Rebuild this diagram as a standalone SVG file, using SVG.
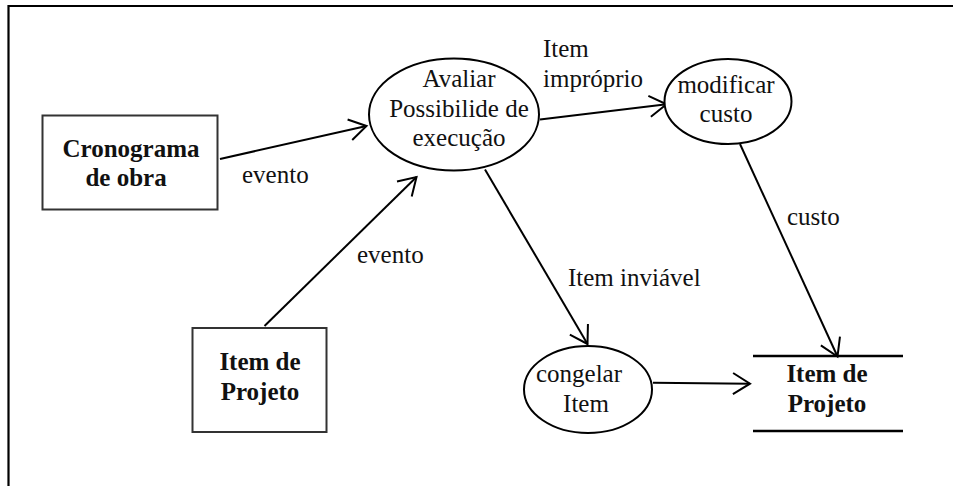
<svg xmlns="http://www.w3.org/2000/svg" width="953" height="486" viewBox="0 0 953 486">
  <style>
    .bg { fill: #ffffff; }
    .frame { fill: none; stroke: #000; stroke-width: 2.2; }
    .entity { fill: #fff; stroke: #333; stroke-width: 2; }
    .proc { fill: #fff; stroke: #000; stroke-width: 2; }
    .store { stroke: #000; stroke-width: 2.5; }
    .flow { fill: none; stroke: #000; stroke-width: 2; }
    text { font-family: "Liberation Serif", "Times New Roman", serif; font-size: 25px; fill: #111; }
    .b { font-weight: bold; }
    .c { text-anchor: middle; }
  </style>
  <defs>
    <marker id="arrow" markerUnits="userSpaceOnUse" markerWidth="40" markerHeight="40" viewBox="-20 -20 40 40" refX="0" refY="0" orient="auto">
      <path d="M-17,-10.5 L0,0 L-17,10.5" fill="none" stroke="#000" stroke-width="2"/>
    </marker>
  </defs>

  <rect class="bg" x="0" y="0" width="953" height="486"/>
  <!-- page frame: top and left edges only -->
  <path class="frame" d="M8.5,486 L8.5,6 L953,6"/>

  <g id="connectors">
    <line class="flow" x1="220" y1="159" x2="366.5" y2="126" marker-end="url(#arrow)"/>
    <line class="flow" x1="264.5" y1="326" x2="416.5" y2="177" marker-end="url(#arrow)"/>
    <line class="flow" x1="540" y1="119.5" x2="666.5" y2="104.3" marker-end="url(#arrow)"/>
    <line class="flow" x1="485" y1="169.5" x2="587.5" y2="344" marker-end="url(#arrow)"/>
    <line class="flow" x1="740" y1="144" x2="837.5" y2="356.5" marker-end="url(#arrow)"/>
    <line class="flow" x1="653" y1="382.7" x2="750" y2="383.7" marker-end="url(#arrow)"/>
    <text x="242" y="183">evento</text>
    <text x="357" y="263">evento</text>
    <text x="543" y="57">Item</text>
    <text x="543" y="87">impróprio</text>
    <text x="568" y="286">Item inviável</text>
    <text x="787" y="225">custo</text>
  </g>

  <g id="cronograma">
    <rect class="entity" x="42.5" y="115.5" width="175" height="94"/>
    <text class="b c" x="131" y="157">Cronograma</text>
    <text class="b c" x="126" y="186">de obra</text>
  </g>

  <g id="item-projeto-origem">
    <rect class="entity" x="192.5" y="328" width="134" height="104"/>
    <text class="b c" x="260" y="370">Item de</text>
    <text class="b c" x="260" y="400">Projeto</text>
  </g>

  <g id="avaliar">
    <ellipse class="proc" cx="454" cy="114.5" rx="85" ry="56"/>
    <text class="c" x="459" y="87">Avaliar</text>
    <text class="c" x="459" y="117">Possibilide de</text>
    <text class="c" x="459" y="146">execução</text>
  </g>

  <g id="modificar">
    <ellipse class="proc" cx="728" cy="101.5" rx="63.5" ry="42.5"/>
    <text class="c" x="726" y="93">modificar</text>
    <text class="c" x="726" y="122">custo</text>
  </g>

  <g id="congelar">
    <ellipse class="proc" cx="588" cy="389.5" rx="64" ry="43.5"/>
    <text class="c" x="579" y="382">congelar</text>
    <text class="c" x="586" y="412">Item</text>
  </g>

  <g id="item-projeto-deposito">
    <line class="store" x1="753" y1="356" x2="903" y2="356"/>
    <line class="store" x1="753" y1="431" x2="903" y2="431"/>
    <text class="b c" x="827" y="382">Item de</text>
    <text class="b c" x="827" y="412">Projeto</text>
  </g>
</svg>
